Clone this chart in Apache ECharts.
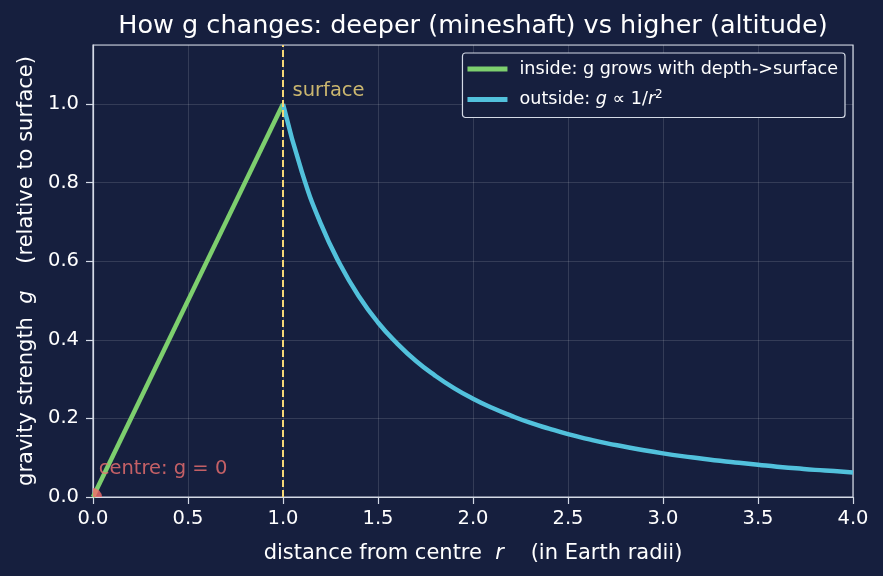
<!DOCTYPE html>
<html>
<head>
<meta charset="utf-8">
<script src="https://cdn.jsdelivr.net/npm/echarts@6/dist/echarts.min.js"></script>
<style>
  html, body { margin: 0; padding: 0; background: #161f3e; }
  #chart { width: 883px; height: 576px; }
</style>
</head>
<body>
<div id="chart"></div>
<script>
// inside the Earth: g grows linearly from centre to surface
const insideR = [0, 1];
const insideG = [0, 1];
// outside: g falls off as 1/r^2
const outsideR = [1.0, 1.1, 1.2, 1.3, 1.4, 1.5, 1.6, 1.7, 1.8, 1.9, 2.0, 2.1, 2.2, 2.3, 2.4, 2.5,
  2.6, 2.7, 2.8, 2.9, 3.0, 3.1, 3.2, 3.3, 3.4, 3.5, 3.6, 3.7, 3.8, 3.9, 4.0];
const outsideG = [1.0, 0.826, 0.694, 0.592, 0.510, 0.444, 0.391, 0.346, 0.309, 0.277, 0.25, 0.227,
  0.207, 0.189, 0.174, 0.16, 0.148, 0.137, 0.128, 0.119, 0.111, 0.104, 0.098, 0.092, 0.087,
  0.082, 0.077, 0.073, 0.069, 0.066, 0.0625];
const surfaceR = 1;
const xTicks = [0, 0.5, 1, 1.5, 2, 2.5, 3, 3.5, 4];
const yTicks = [0, 0.2, 0.4, 0.6, 0.8, 1.0];

const font = 'DejaVu Sans';
const textColor = '#ffffff';
const gridLine = 'rgba(255,255,255,0.13)';
const frameColor = '#d4dae6';
const bg = '#161f3e';

const chart = echarts.init(document.getElementById('chart'));
chart.setOption({
  backgroundColor: bg,
  animation: false,
  title: {
    text: 'How g changes: deeper (mineshaft) vs higher (altitude)',
    left: 468,
    textAlign: 'center',
    top: 8,
    textStyle: { color: textColor, fontFamily: font, fontSize: 25.5, fontWeight: 'normal' }
  },
  grid: {
    left: 93, right: 30, top: 45, bottom: 79,
    show: true, borderColor: frameColor, borderWidth: 1.2, backgroundColor: bg
  },
  legend: {
    orient: 'vertical',
    right: 38,
    top: 53,
    padding: [6, 7, 8, 5],
    itemGap: 10,
    itemWidth: 40,
    itemHeight: 5,
    icon: 'rect',
    backgroundColor: bg,
    borderColor: frameColor,
    borderWidth: 1.2,
    borderRadius: 3,
    data: ['inside', 'outside'],
    formatter: function (name) {
      if (name === 'inside') return 'inside: g grows with depth->surface';
      return 'outside: {i|g} ∝ 1/{i|r}{s|2}';
    },
    textStyle: {
      color: textColor, fontFamily: font, fontSize: 17.6, padding: [0, 0, 0, 7],
      lineHeight: 20,
      rich: {
        i: { fontStyle: 'italic', fontFamily: font, fontSize: 17.6, color: textColor },
        s: { fontFamily: font, fontSize: 12, color: textColor, padding: [0, 0, 9, 0] }
      }
    }
  },
  xAxis: {
    type: 'value',
    min: xTicks[0], max: xTicks[xTicks.length - 1], interval: 0.5,
    name: 'distance from centre  {i|r}    (in Earth radii)',
    nameLocation: 'middle',
    nameGap: 46,
    nameTextStyle: {
      color: textColor, fontFamily: font, fontSize: 21,
      rich: { i: { fontStyle: 'italic', fontFamily: font, fontSize: 21, color: textColor } }
    },
    axisLine: { show: true, lineStyle: { color: frameColor, width: 1.2 } },
    axisTick: { show: true, length: 7, lineStyle: { color: frameColor, width: 1.2 } },
    axisLabel: {
      color: textColor, fontFamily: font, fontSize: 19.5, margin: 12,
      formatter: v => v.toFixed(1)
    },
    splitLine: { show: true, lineStyle: { color: gridLine } }
  },
  yAxis: {
    type: 'value',
    min: 0, max: 1.15, interval: 0.2,
    name: 'gravity strength  {i|g}    (relative to surface)',
    nameLocation: 'middle',
    nameGap: 56,
    nameTextStyle: {
      color: textColor, fontFamily: font, fontSize: 21,
      rich: { i: { fontStyle: 'italic', fontFamily: font, fontSize: 21, color: textColor } }
    },
    axisLine: { show: true, lineStyle: { color: frameColor, width: 1.2 } },
    axisTick: { show: true, length: 7, lineStyle: { color: frameColor, width: 1.2 } },
    axisLabel: {
      color: textColor, fontFamily: font, fontSize: 19.5, margin: 14,
      showMaxLabel: false,
      formatter: v => yTicks.some(t => Math.abs(t - v) < 1e-6) ? v.toFixed(1) : ''
    },
    splitLine: { show: true, lineStyle: { color: gridLine } }
  },
  series: [
    {
      name: 'inside',
      type: 'line',
      data: insideR.map((r, i) => [r, insideG[i]]),
      showSymbol: false,
      color: '#7dcf6e',
      lineStyle: { width: 4.5, color: '#7dcf6e' },
      z: 3,
      markLine: {
        silent: true,
        symbol: 'none',
        label: { show: false },
        lineStyle: { color: '#f5d776', type: [7, 3], width: 2 },
        data: [{ xAxis: surfaceR }]
      }
    },
    {
      name: 'outside',
      type: 'line',
      data: outsideR.map((r, i) => [r, outsideG[i]]),
      smooth: true,
      showSymbol: false,
      color: '#52c1dc',
      lineStyle: { width: 4.5, color: '#52c1dc' },
      z: 3
    },
    {
      // centre marker, clipped to the plot like a quarter disc
      type: 'scatter',
      data: [[insideR[0], insideG[0]]],
      symbol: 'path://M0 10 L0 0 A10 10 0 0 1 10 10 Z',
      symbolSize: 9,
      symbolOffset: [4.5, -4.5],
      itemStyle: { color: '#f26b6b' },
      z: 4
    },
    {
      type: 'scatter',
      data: [[0.03, 0.071]],
      symbolSize: 0,
      label: {
        show: true, position: 'right', distance: 0,
        formatter: 'centre: g = 0',
        color: '#f07070', fontFamily: font, fontSize: 19.5
      },
      z: 5
    },
    {
      type: 'scatter',
      data: [[1.05, 1.033]],
      symbolSize: 0,
      label: {
        show: true, position: 'right', distance: 0,
        formatter: 'surface',
        color: '#f8dc7c', fontFamily: font, fontSize: 19.5
      },
      z: 5
    }
  ]
});
</script>
</body>
</html>
